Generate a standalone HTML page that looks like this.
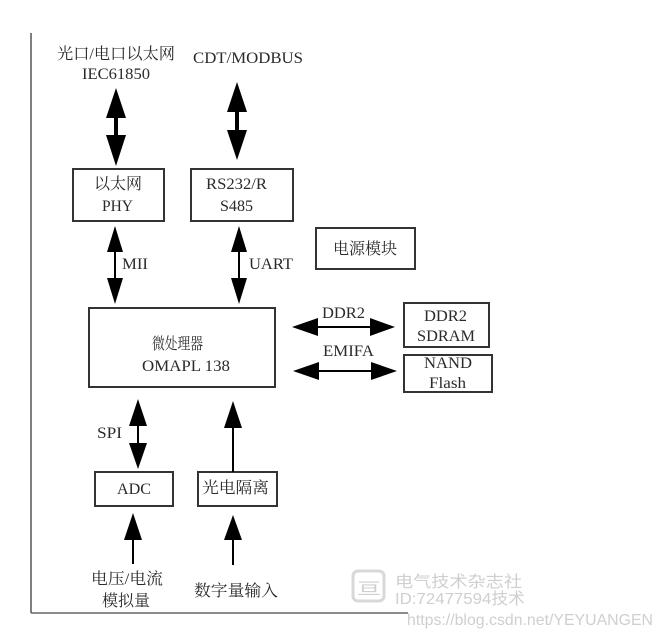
<!DOCTYPE html>
<html><head><meta charset="utf-8"><style>
html,body{margin:0;padding:0;background:#fff;width:662px;height:641px;overflow:hidden}
svg{display:block}
text{font-family:"Liberation Serif","Noto Serif CJK SC",serif;fill:#2a2a2a;font-size:16px}
.wm{font-family:"Liberation Sans","Noto Sans CJK SC",sans-serif;fill:#cfcfcf}
</style></head><body>
<svg width="662" height="641" viewBox="0 0 662 641" xmlns="http://www.w3.org/2000/svg">
<rect x="0" y="0" width="662" height="641" fill="#fff"/>
<!-- frame -->
<line x1="31" y1="33" x2="31" y2="613" stroke="#555" stroke-width="1.5"/>
<line x1="31" y1="613" x2="408" y2="613" stroke="#666" stroke-width="1.5"/>

<!-- top labels -->
<text x="57" y="59" textLength="118" lengthAdjust="spacingAndGlyphs" font-size="17">光口/电口以太网</text>
<text x="82" y="79" textLength="68" lengthAdjust="spacingAndGlyphs" font-size="17">IEC61850</text>
<text x="193" y="63" textLength="110" lengthAdjust="spacingAndGlyphs" font-size="17">CDT/MODBUS</text>

<!-- top-left thick arrow -->
<g fill="#000" stroke="none">
<polygon points="116,88 126,118 106,118"/>
<rect x="114" y="117" width="4" height="19"/>
<polygon points="106,135 126,135 116,166"/>
<!-- top-right thick arrow -->
<polygon points="237,82 247,112 227,112"/>
<rect x="235" y="111" width="4" height="20"/>
<polygon points="227,130 247,130 237,160"/>
</g>

<!-- boxes -->
<g fill="none" stroke="#333" stroke-width="2">
<rect x="73" y="169" width="91" height="52"/>
<rect x="191" y="169" width="102" height="52"/>
<rect x="316" y="228" width="99" height="41"/>
<rect x="89" y="308" width="186" height="79"/>
<rect x="404" y="303" width="85" height="44"/>
<rect x="404" y="355" width="88" height="37"/>
<rect x="95" y="472" width="78" height="34"/>
<rect x="198" y="472" width="79" height="34"/>
</g>

<text x="94" y="189" textLength="48" lengthAdjust="spacingAndGlyphs">以太网</text>
<text x="102" y="211" textLength="31" lengthAdjust="spacingAndGlyphs">PHY</text>
<text x="206" y="189" textLength="61" lengthAdjust="spacingAndGlyphs">RS232/R</text>
<text x="220" y="211" textLength="33" lengthAdjust="spacingAndGlyphs">S485</text>
<text x="333" y="254" textLength="64" lengthAdjust="spacingAndGlyphs">电源模块</text>
<text x="152" y="349" textLength="51" lengthAdjust="spacingAndGlyphs">微处理器</text>
<text x="142" y="371" textLength="88" lengthAdjust="spacingAndGlyphs">OMAPL 138</text>
<text x="424" y="321" textLength="43" lengthAdjust="spacingAndGlyphs">DDR2</text>
<text x="417" y="341" textLength="58" lengthAdjust="spacingAndGlyphs">SDRAM</text>
<text x="424" y="368" textLength="48" lengthAdjust="spacingAndGlyphs">NAND</text>
<text x="429" y="388" textLength="37" lengthAdjust="spacingAndGlyphs">Flash</text>
<text x="117" y="494" textLength="34" lengthAdjust="spacingAndGlyphs">ADC</text>
<text x="202" y="493" textLength="67" lengthAdjust="spacingAndGlyphs">光电隔离</text>

<!-- mid arrows -->
<g fill="#000" stroke="none">
<!-- MII -->
<polygon points="115,226 123,252 107,252"/>
<rect x="114" y="251" width="2" height="28"/>
<polygon points="107,278 123,278 115,304"/>
<!-- UART -->
<polygon points="239,226 247,252 231,252"/>
<rect x="238" y="251" width="2" height="28"/>
<polygon points="231,278 247,278 239,304"/>
<!-- DDR2 -->
<polygon points="292,327 318,318 318,336"/>
<rect x="317" y="326" width="54" height="2"/>
<polygon points="370,318 395,327 370,336"/>
<!-- EMIFA -->
<polygon points="293,371 319,362 319,380"/>
<rect x="318" y="370" width="54" height="2"/>
<polygon points="371,362 397,371 371,380"/>
<!-- SPI -->
<polygon points="138,399 147,426 129,426"/>
<rect x="137" y="425" width="2" height="19"/>
<polygon points="129,443 147,443 138,469"/>
<!-- opto up -->
<polygon points="233,401 242,428 224,428"/>
<rect x="232" y="427" width="2" height="45"/>
<!-- below ADC -->
<polygon points="133,513 142,540 124,540"/>
<rect x="132" y="539" width="2" height="25"/>
<!-- below opto -->
<polygon points="233,515 242,540 224,540"/>
<rect x="232" y="539" width="2" height="26"/>
</g>

<text x="122" y="269" textLength="26" lengthAdjust="spacingAndGlyphs">MII</text>
<text x="249" y="269" textLength="44" lengthAdjust="spacingAndGlyphs">UART</text>
<text x="322" y="318" textLength="43" lengthAdjust="spacingAndGlyphs">DDR2</text>
<text x="323" y="356" textLength="51" lengthAdjust="spacingAndGlyphs">EMIFA</text>
<text x="97" y="438" textLength="25" lengthAdjust="spacingAndGlyphs">SPI</text>

<text x="91" y="584" textLength="72" lengthAdjust="spacingAndGlyphs">电压/电流</text>
<text x="102" y="606" textLength="48" lengthAdjust="spacingAndGlyphs">模拟量</text>
<text x="194" y="596" textLength="84" lengthAdjust="spacingAndGlyphs">数字量输入</text>

<!-- watermark -->
<rect x="353" y="571" width="31" height="30" rx="5" fill="none" stroke="#d8d8d8" stroke-width="3"/>
<text class="wm" x="357" y="594" font-size="20" textLength="24" lengthAdjust="spacingAndGlyphs">亘</text>
<text class="wm" x="395" y="587" font-size="18" textLength="127" lengthAdjust="spacingAndGlyphs">电气技术杂志社</text>
<text class="wm" x="395" y="604" font-size="17" textLength="130" lengthAdjust="spacingAndGlyphs">ID:72477594技术</text>
<text class="wm" x="407" y="625" font-size="16" textLength="246" lengthAdjust="spacingAndGlyphs">https://blog.csdn.net/YEYUANGEN</text>
</svg>
</body></html>
